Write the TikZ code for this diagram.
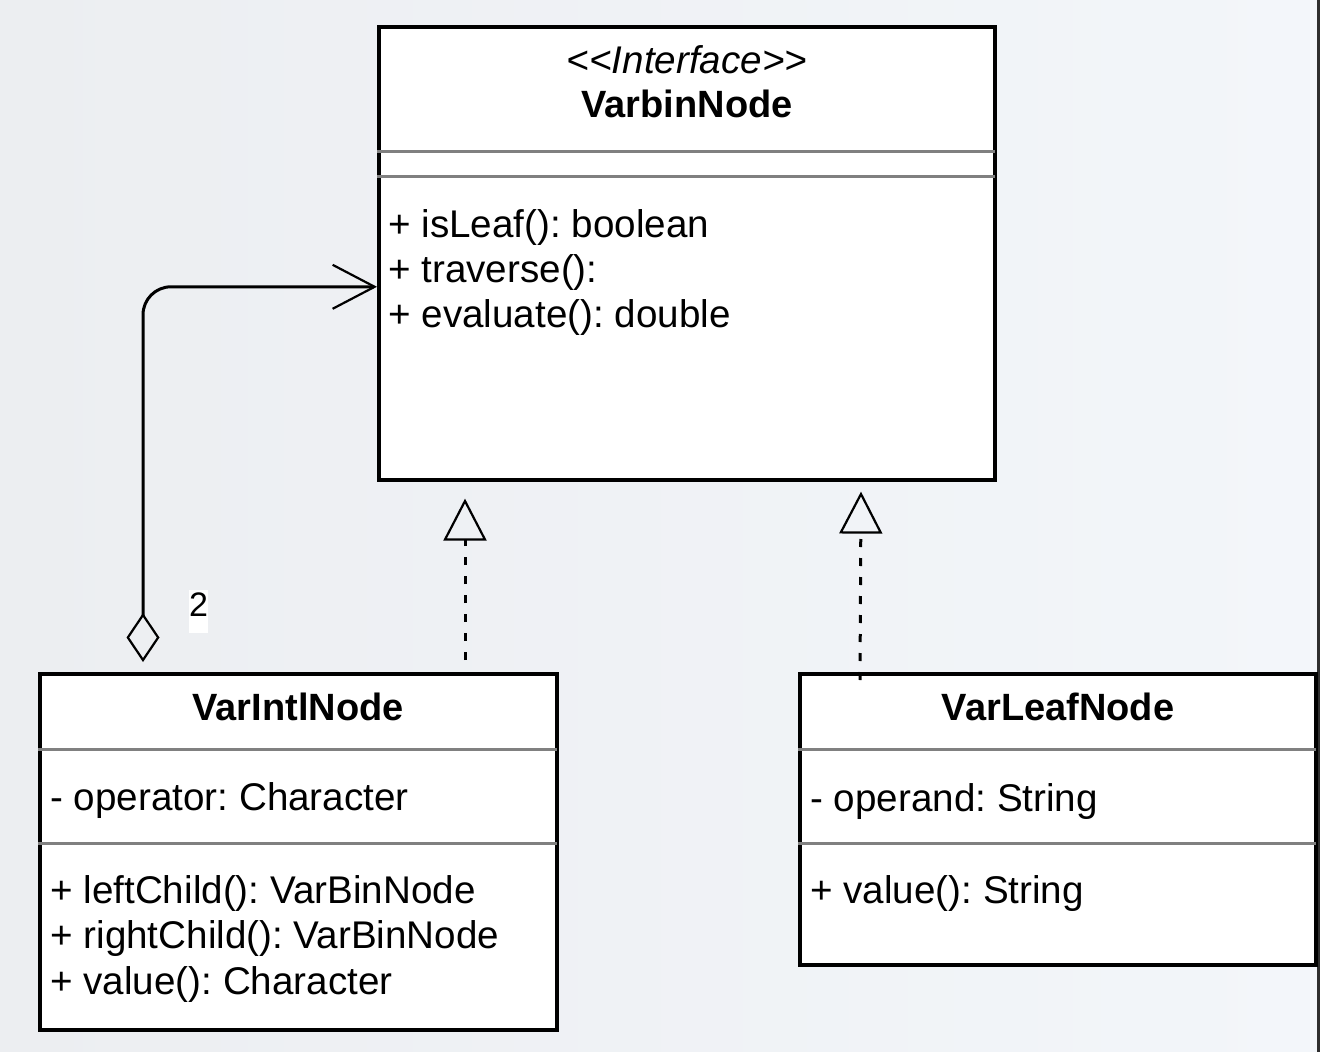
\documentclass[tikz,border=0pt]{standalone}
\usepackage{fontspec}
\setmainfont{Liberation Sans}
\usetikzlibrary{arrows.meta,positioning,calc}
\definecolor{bgleft}{HTML}{ECEEF1}
\definecolor{bgright}{HTML}{F3F6FA}
\definecolor{rulegray}{HTML}{808080}
\definecolor{edgedark}{HTML}{2E2E2E}
\frenchspacing

\begin{document}
\begin{tikzpicture}[x=0.5pt, y=-0.5pt,
    every node/.style={font=\fontsize{19.3}{22}\selectfont, inner sep=0pt},
    class/.style={draw, line width=1.8pt, fill=white, anchor=north west},
    sep/.style={draw=rulegray, line width=1.5pt},
    member/.style={anchor=base west},
    title/.style={anchor=base, font=\fontsize{19}{22}\selectfont\bfseries},
    realize/.style={dash pattern=on 4pt off 5.5pt, line width=1.5pt,
      -{Triangle[open, length=21pt, width=21.5pt, line width=1.1pt]}},
    aggregate/.style={line width=1.5pt, rounded corners=14pt,
      {Diamond[open, length=24.5pt, width=16.5pt, line width=1.1pt]}-{Straight Barb[length=21pt, width=22pt, line width=1.1pt]}}
  ]
  % canvas
  \shade[left color=bgleft, right color=bgright] (0,0) rectangle (1320,1052);
  \fill[edgedark] (1317,0) rectangle (1320,1052);

  % interface box on top, two classes below
  \node[class, minimum width=308pt, minimum height=226.5pt] (bin_node) at (377,25) {};
  \node[class, minimum width=258.5pt, minimum height=178pt] (intl_node) at (38,672) {};
  \node[class, minimum width=258pt, minimum height=145.5pt] (leaf_node) at (798,672) {};

  % compartments
  \draw[sep] (377,152) -- (995,152);
  \draw[sep] (377,177) -- (995,177);
  \draw[sep] (38,749) -- (557,749);
  \draw[sep] (38,843) -- (557,843);
  \draw[sep] (798,749) -- (1316,749);
  \draw[sep] (798,843) -- (1316,843);

  \node[anchor=base, font=\fontsize{19.3}{22}\selectfont\itshape] (bin_stereo) at (687,74) {<\kern0pt<Interface>\kern0pt>};
  \node[title] (bin_name) at (687,118) {VarbinNode};
  \node[member] (bin_m1) at (388,238) {+ isLeaf(): boolean};
  \node[member] (bin_m2) at (388,283) {+ traverse():};
  \node[member] (bin_m3) at (388,328) {+ evaluate(): double};

  \node[title] (intl_name) at (298,720) {VarIntlNode};
  \node[member] (intl_a1) at (50,810) {- operator: Character};
  \node[member] (intl_m1) at (50,903) {+ leftChild(): VarBinNode};
  \node[member] (intl_m2) at (50,948) {+ rightChild(): VarBinNode};
  \node[member] (intl_m3) at (50,994) {+ value(): Character};

  \node[title] (leaf_name) at (1058,720) {VarLeafNode};
  \node[member] (leaf_a1) at (810,811) {- operand: String};
  \node[member] (leaf_m1) at (810,903) {+ value(): String};

  % aggregation from the inner node back to the interface, with multiplicity
  \draw[aggregate] ([xshift=52.5pt, yshift=5pt]intl_node.north west) |- ([yshift=-16.75pt]bin_node.west);
  \node[fill=white, anchor=north, inner xsep=0pt, inner ysep=1pt, text height=12.2pt, text depth=7pt,
    font=\fontsize{17}{20}\selectfont] (mult) at (198.5,590) {2};

  % realizations
  \draw[realize] ([xshift=213.5pt, yshift=6pt]intl_node.north west) -- ([xshift=44pt, yshift=-8.5pt]bin_node.south west);
  \draw[realize] ([xshift=31pt, yshift=-4pt]leaf_node.north west) -- ([xshift=242pt, yshift=-5pt]bin_node.south west);
\end{tikzpicture}
\end{document}
